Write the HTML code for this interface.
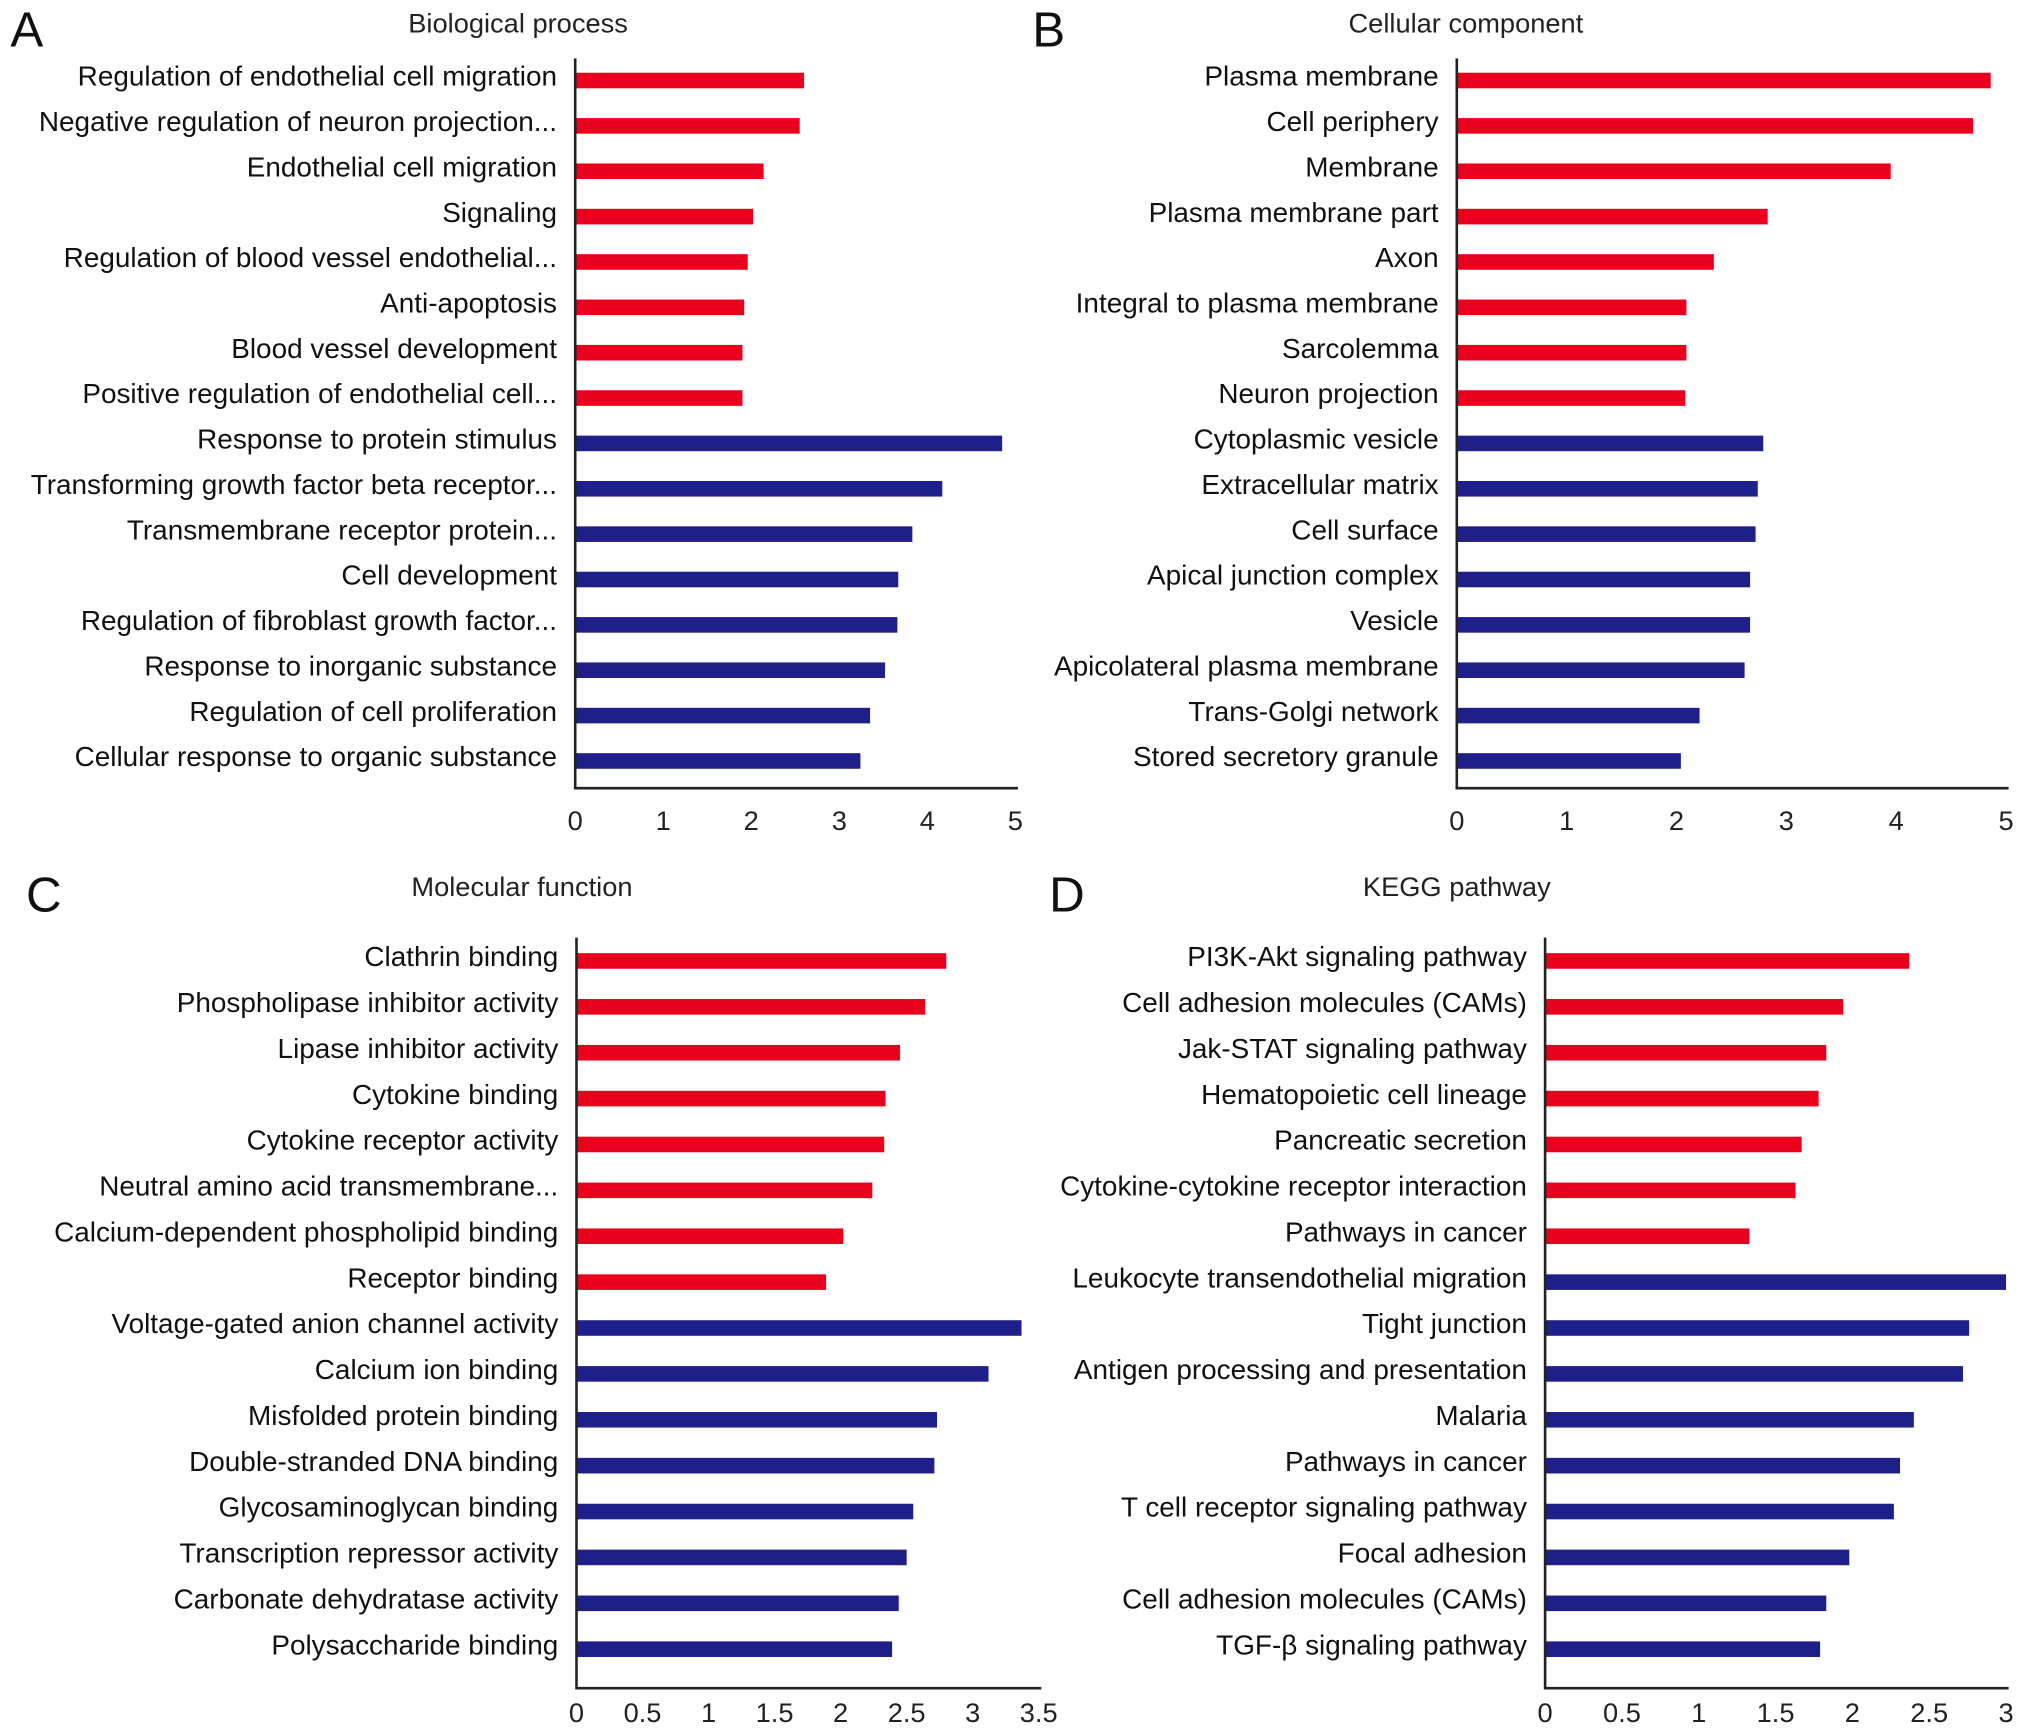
<!DOCTYPE html>
<html><head><meta charset="utf-8"><style>
html,body{margin:0;padding:0;background:#fff;}
svg{display:block;font-family:"Liberation Sans",Arial,sans-serif;}
</style></head><body>
<svg id="fig" width="2032" height="1731" viewBox="0 0 1565 1333" preserveAspectRatio="none" xmlns="http://www.w3.org/2000/svg"></svg>
<script>
const NS="http://www.w3.org/2000/svg";
const svg=document.getElementById('fig');

const bpLabels=["Regulation of endothelial cell migration","Negative regulation of neuron projection...","Endothelial cell migration","Signaling","Regulation of blood vessel endothelial...","Anti-apoptosis","Blood vessel development","Positive regulation of endothelial cell...","Response to protein stimulus","Transforming growth factor beta receptor...","Transmembrane receptor protein...","Cell development","Regulation of fibroblast growth factor...","Response to inorganic substance","Regulation of cell proliferation","Cellular response to organic substance"];
const bpValues=[2.6,2.55,2.14,2.02,1.96,1.92,1.9,1.9,4.85,4.17,3.83,3.67,3.66,3.52,3.35,3.24];
const bpTicks=["0","1","2","3","4","5"];

const ccLabels=["Plasma membrane","Cell periphery","Membrane","Plasma membrane part","Axon","Integral to plasma membrane","Sarcolemma","Neuron projection","Cytoplasmic vesicle","Extracellular matrix","Cell surface","Apical junction complex","Vesicle","Apicolateral plasma membrane","Trans-Golgi network","Stored secretory granule"];
const ccValues=[4.86,4.7,3.95,2.83,2.34,2.09,2.09,2.08,2.79,2.74,2.72,2.67,2.67,2.62,2.21,2.04];
const ccTicks=["0","1","2","3","4","5"];

const mfLabels=["Clathrin binding","Phospholipase inhibitor activity","Lipase inhibitor activity","Cytokine binding","Cytokine receptor activity","Neutral amino acid transmembrane...","Calcium-dependent phospholipid binding","Receptor binding","Voltage-gated anion channel activity","Calcium ion binding","Misfolded protein binding","Double-stranded DNA binding","Glycosaminoglycan binding","Transcription repressor activity","Carbonate dehydratase activity","Polysaccharide binding"];
const mfValues=[2.8,2.64,2.45,2.34,2.33,2.24,2.02,1.89,3.37,3.12,2.73,2.71,2.55,2.5,2.44,2.39];
const mfTicks=["0","0.5","1","1.5","2","2.5","3","3.5"];

const kgLabels=["PI3K-Akt signaling pathway","Cell adhesion molecules (CAMs)","Jak-STAT signaling pathway","Hematopoietic cell lineage","Pancreatic secretion","Cytokine-cytokine receptor interaction","Pathways in cancer","Leukocyte transendothelial migration","Tight junction","Antigen processing and presentation","Malaria","Pathways in cancer","T cell receptor signaling pathway","Focal adhesion","Cell adhesion molecules (CAMs)","TGF-\u03b2 signaling pathway"];
const kgValues=[2.37,1.94,1.83,1.78,1.67,1.63,1.33,3.0,2.76,2.72,2.4,2.31,2.27,1.98,1.83,1.79];
const kgTicks=["0","0.5","1","1.5","2","2.5","3"];

function mk(tag,attrs,parent){const e=document.createElementNS(NS,tag);for(const k in attrs)e.setAttribute(k,attrs[k]);(parent||svg).appendChild(e);return e;}

function panel(o){
  const g=mk('g',{});
  
  
  const x=v=>o.x0+(v/o.max)*(o.xMax-o.x0);
  const y=i=>o.yFirst+i*(o.yLast-o.yFirst)/(o.labels.length-1);
  const letter=mk('text',{x:o.lx,y:o.ly,'font-size':38,fill:'#111'},g);letter.textContent=o.letter;
  
  
  const t=mk('text',{x:o.tx,y:o.ty,'font-size':21,fill:'#222','text-anchor':'middle'},g);t.textContent=o.title;
  
  
  o.values.forEach((v,i)=>{
    const r=mk('rect',{x:o.x0,y:y(i)-6,width:x(v)-o.x0,height:12,fill:i<o.nRed?'#e8001c':'#1f1f8a'},g);
    
    
    const l=mk('text',{x:o.x0-14,y:y(i)+4,'font-size':21.5,fill:'#111','text-anchor':'end'},g);l.textContent=o.labels[i];
    
    
  });
  const ax=mk('path',{d:`M${o.x0} ${o.top}V${o.bottom}H${o.xMax+2}`,stroke:'#222','stroke-width':2,fill:'none'},g);
  
  
  o.ticks.forEach(tk=>{
    const e=mk('text',{x:x(parseFloat(tk)),y:o.bottom+o.tickOff,'font-size':21,fill:'#222','text-anchor':'middle'},g);e.textContent=tk;
    
    
  });
}

panel({id:'biological-process',letter:'A',lx:8,ly:36,title:'Biological process',tx:399,ty:25,labels:bpLabels,values:bpValues,ticks:bpTicks,nRed:8,max:5,x0:443,xMax:782,top:45,bottom:607,yFirst:62,yLast:586,tickOff:32});
panel({id:'cellular-component',letter:'B',lx:795,ly:36,title:'Cellular component',tx:1129,ty:25,labels:ccLabels,values:ccValues,ticks:ccTicks,nRed:8,max:5,x0:1122,xMax:1545,top:45,bottom:607,yFirst:62,yLast:586,tickOff:32});
panel({id:'molecular-function',letter:'C',lx:20,ly:702,title:'Molecular function',tx:402,ty:690,labels:mfLabels,values:mfValues,ticks:mfTicks,nRed:8,max:3.5,x0:444,xMax:800,top:722,bottom:1300,yFirst:740,yLast:1270,tickOff:26});
panel({id:'kegg-pathway',letter:'D',lx:808,ly:702,title:'KEGG pathway',tx:1122,ty:690,labels:kgLabels,values:kgValues,ticks:kgTicks,nRed:7,max:3,x0:1190,xMax:1545,top:722,bottom:1300,yFirst:740,yLast:1270,tickOff:26});
</script>
</body></html>
